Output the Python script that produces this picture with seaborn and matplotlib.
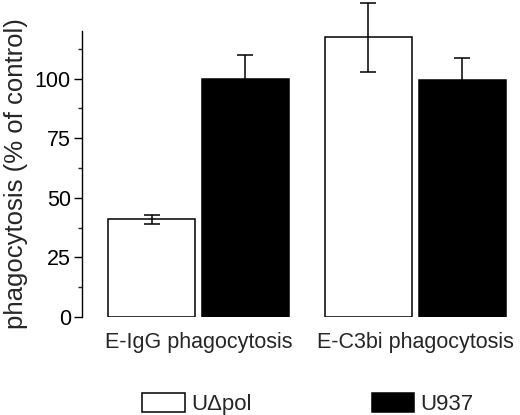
import matplotlib
matplotlib.use("Agg")
import matplotlib.pyplot as plt
from matplotlib.ticker import MultipleLocator, FixedLocator
import seaborn as sns
import pandas as pd
import numpy as np

categories = ["E-IgG phagocytosis", "E-C3bi phagocytosis"]
series = ["U\u0394pol", "U937"]
values_udpol = [41.0, 117.3]
values_u937 = [100.0, 99.4]
err_udpol = [1.8, 14.3]
err_u937 = [10.0, 9.3]
yticks = [0, 25, 50, 75, 100]

sns.set_style("ticks")
plt.rcParams['font.family'] = ['Liberation Sans', 'DejaVu Sans']

df = pd.DataFrame({
    "cat": categories * 2,
    "cell": [series[0]] * 2 + [series[1]] * 2,
    "val": values_udpol + values_u937,
})

fig = plt.figure(figsize=(5.2, 4.15), dpi=100)
ax = fig.add_axes([82/520, 1-317/415, (512-82)/520, (317-31)/415])

sns.barplot(data=df, x="cat", y="val", hue="cell", order=categories,
            hue_order=series, palette=["white", "black"], width=0.866,
            gap=0.074, edgecolor="black", linewidth=1.1, errorbar=None,
            ax=ax, legend=True)

# error bars at bar centres from the library's patches
errs = {series[0]: err_udpol, series[1]: err_u937}
for container, name in zip(ax.containers, series):
    xs = [p.get_x() + p.get_width()/2 for p in container.patches]
    hs = [p.get_height() for p in container.patches]
    eb = ax.errorbar(xs, hs, yerr=errs[name], fmt="none", ecolor="black",
                     elinewidth=1.1, capsize=6, capthick=1.1, zorder=5)
    for art in eb.lines[1] + eb.lines[2]:
        art.set_clip_on(False)

ax.set_ylim(0, 120)
ax.set_xlim(-0.537, 1.445)
ax.yaxis.set_major_locator(FixedLocator(yticks))
ax.yaxis.set_minor_locator(MultipleLocator(12.5))
ax.tick_params(axis="y", which="major", length=6, width=1.0, labelsize=15.5, pad=2, colors="black")
ax.tick_params(axis="y", which="minor", length=3, width=1.0)
ax.tick_params(axis="x", length=0, labelsize=15.5, pad=11)
for s in ["top", "right", "bottom"]:
    ax.spines[s].set_visible(False)
ax.spines["left"].set_linewidth(1.0)
ax.spines["left"].set_color("black")
ax.set_xlabel("")
ax.set_ylabel("phagocytosis (% of control)", fontsize=18.5, labelpad=5)

handles, labels = ax.get_legend_handles_labels()
ax.get_legend().remove()
fig.legend(handles, labels, loc="center", bbox_to_anchor=(308/520, 1-404/415),
           ncol=2, frameon=False, fontsize=16, handlelength=1.9,
           handleheight=0.9, columnspacing=5.4, handletextpad=0.3)

fig.savefig("out.png", dpi=100)
